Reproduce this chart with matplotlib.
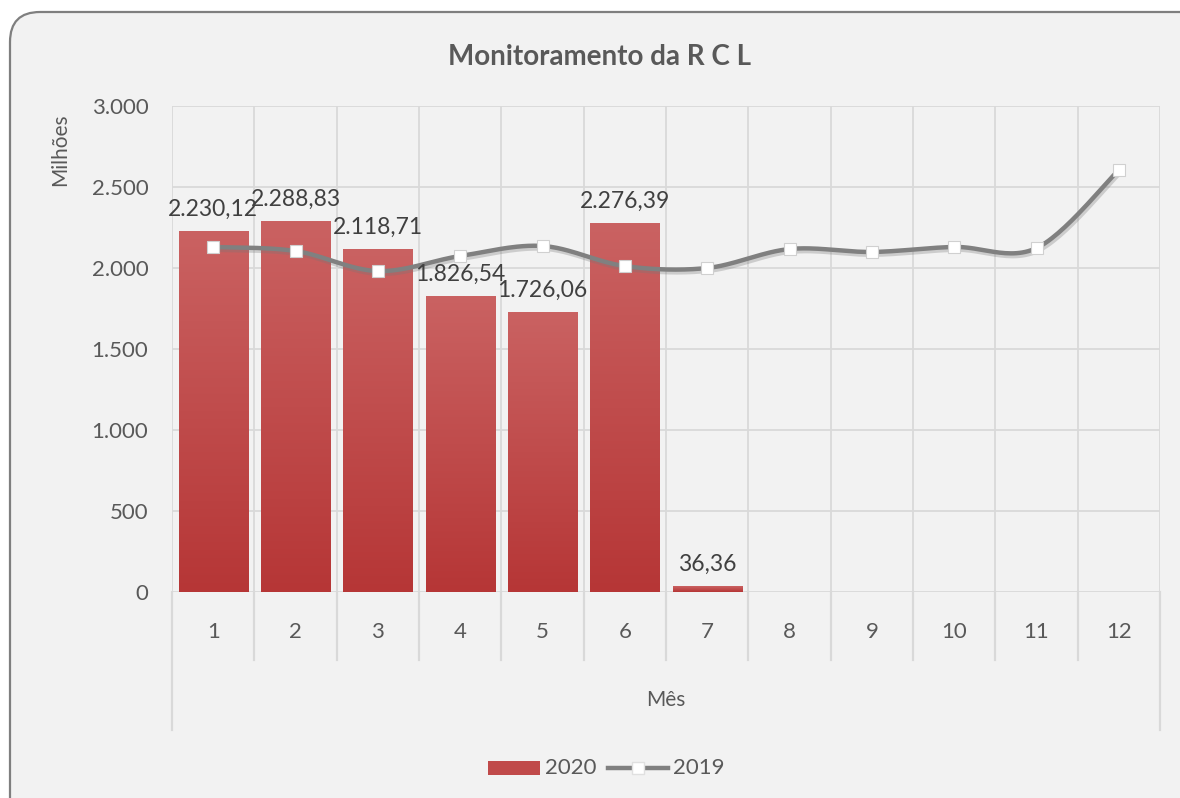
import numpy as np
import matplotlib
matplotlib.use("Agg")
import matplotlib.pyplot as plt
from matplotlib.patches import FancyBboxPatch, Rectangle
from matplotlib.transforms import IdentityTransform
from matplotlib.colors import LinearSegmentedColormap
import matplotlib.patheffects as pe

plt.rcParams['font.family'] = ['Lato', 'DejaVu Sans']

months = [1, 2, 3, 4, 5, 6, 7, 8, 9, 10, 11, 12]
vals_2020 = [2230.12, 2288.83, 2118.71, 1826.54, 1726.06, 2276.39, 36.36]
labels_2020 = ["2.230,12", "2.288,83", "2.118,71", "1.826,54", "1.726,06", "2.276,39", "36,36"]
vals_2019 = [2130, 2105, 1981, 2074, 2136, 2012, 2000, 2117, 2099, 2130, 2123, 2605]
yticks = [0, 500, 1000, 1500, 2000, 2500, 3000]
ytick_labels = ["0", "500", "1.000", "1.500", "2.000", "2.500", "3.000"]

W, H = 1180, 798
fig = plt.figure(figsize=(W / 100, H / 100), dpi=100)
fig.patch.set_facecolor("white")

box = FancyBboxPatch((10, -40), 1200, H - 12 + 40, boxstyle="round,pad=0,rounding_size=30",
                     transform=IdentityTransform(), facecolor="#f2f2f2", edgecolor="#7f7f7f",
                     linewidth=1.6, zorder=-5)
fig.patches.append(box)

L, R, T, B = 172, 1160, 106, 592
ax = fig.add_axes([L / W, 1 - B / H, (R - L) / W, (B - T) / H], zorder=1)
ax.set_facecolor("none")

grid_c = "#d9d9d9"
tc = "#595959"
fs = 16
for y in yticks:
    ax.axhline(y, color=grid_c, lw=1.3, zorder=1)
for xb in np.arange(0.5, 13.0, 1.0):
    ax.axvline(xb, color=grid_c, lw=1.3, zorder=1)
for s in ax.spines.values():
    s.set_visible(False)
ax.set_xticks([])
ax.set_yticks(yticks)
ax.set_yticklabels(ytick_labels, fontsize=fs, color=tc)
ax.tick_params(axis='y', length=0, pad=17)

xt = ax.get_xaxis_transform()
for xb in np.arange(0.5, 13.0, 1.0):
    y1 = -0.284 if xb in (0.5, 12.5) else -0.14
    ax.plot([xb, xb], [0, y1], transform=xt, color=grid_c, lw=1.6, clip_on=False, zorder=1)
for m in months:
    ax.text(m, -0.082, str(m), transform=xt, ha='center', va='center', fontsize=fs, color=tc)
ax.text(6.5, -0.222, "Mês", transform=xt, ha='center', va='center', fontsize=15, color=tc)

bw = 0.84
grad = np.linspace(0, 1, 256).reshape(-1, 1)
cmap = LinearSegmentedColormap.from_list("rg", ["#b63636", "#ca6262"])
bars = ax.bar(months[:len(vals_2020)], vals_2020, width=bw, color="#c04a4a", zorder=2,
              path_effects=[pe.SimplePatchShadow(offset=(0, -1), shadow_rgbFace="#9a9a9a", alpha=0.5), pe.Normal()])
for b in bars:
    x0, w, h = b.get_x(), b.get_width(), b.get_height()
    im = ax.imshow(grad, extent=[x0, x0 + w, 0, h], origin='lower', cmap=cmap, aspect='auto', zorder=2.5)
    im.set_clip_path(b)
ax.set_xlim(0.5, 12.5)
ax.set_ylim(0, 3000)

for m, v, lab in zip(months, vals_2020, labels_2020):
    ax.text(m, v + 70, lab, ha='center', va='bottom', fontsize=16.5, color="#404040", zorder=6)

xs = np.array(months, dtype=float)
ys = np.array(vals_2019, dtype=float)
P = np.column_stack([xs, ys])
curve = []
t = np.linspace(0, 1, 30)
n = len(P)
for i in range(n - 1):
    p0 = P[i]
    p3 = P[i + 1]
    pm = P[i - 1] if i > 0 else P[i]
    pp = P[i + 2] if i + 2 < n else P[i + 1]
    c1 = p0 + (p3 - pm) / 6.0
    c2 = p3 - (pp - p0) / 6.0
    seg = ((1 - t) ** 3)[:, None] * p0 + (3 * (1 - t) ** 2 * t)[:, None] * c1 + \
          (3 * (1 - t) * t ** 2)[:, None] * c2 + (t ** 3)[:, None] * p3
    curve.append(seg)
curve = np.vstack(curve)
ax.plot(curve[:, 0], curve[:, 1], color="#808080", lw=3.2, zorder=4, solid_capstyle='round',
        path_effects=[pe.SimpleLineShadow(offset=(1, -2), shadow_color="#777777", alpha=0.3), pe.Normal()])
ax.plot(xs, ys, ls='none', marker='s', ms=9, mfc='white', mec='#d0d0d0', mew=0.8, zorder=5)

fig.text(600 / W, 1 - 57 / H, "Monitoramento da R C L", ha='center', va='center', fontsize=20,
         fontweight='bold', color=tc)
fig.text(60 / W, 1 - 150 / H, "Milhões", rotation=90, ha='center', va='center', fontsize=15, color=tc)

ly = 1 - 768 / H
fig.patches.append(Rectangle((488 / W, ly - 7 / H), 52 / W, 14 / H, transform=fig.transFigure,
                             facecolor="#c04a4a", edgecolor='none'))
fig.text(545 / W, ly, "2020", ha='left', va='center', fontsize=16, color=tc)
fig.lines.append(plt.Line2D([608 / W, 668 / W], [ly, ly], transform=fig.transFigure, color="#808080", lw=3.2))
fig.lines.append(plt.Line2D([638 / W], [ly], transform=fig.transFigure, ls='none', marker='s', ms=8,
                            mfc='white', mec='#e0e0e0'))
fig.text(673 / W, ly, "2019", ha='left', va='center', fontsize=16, color=tc)

fig.savefig("out.png", dpi=100, facecolor=fig.get_facecolor())
